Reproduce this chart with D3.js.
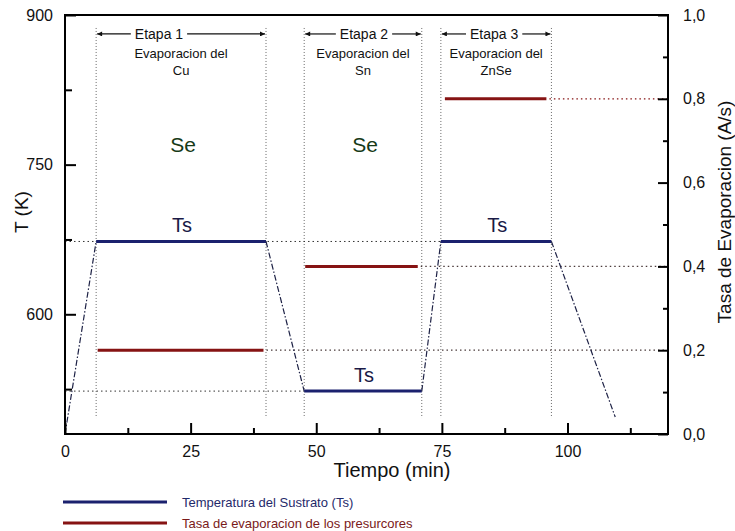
<!DOCTYPE html>
<html>
<head>
<meta charset="utf-8">
<script src="https://cdn.jsdelivr.net/npm/d3@7"></script>
<style>
  body { margin: 0; background: #fff; }
  svg text { font-family: "Liberation Sans", Arial, sans-serif; }
</style>
</head>
<body>
<div id="chart"></div>
<script>
// substrate temperature profile (min, K)
var tsTime = [0, 6.2, 40, 47.6, 71, 74.8, 96.8, 109.5];
var tsTemp = [480, 673, 673, 523, 523, 673, 673, 497];

// evaporation rate of the precursors (A/s)
var rateStart = [6.5, 47.8, 75.6];
var rateEnd = [39.5, 70.2, 95.8];
var rateValue = [0.2, 0.4, 0.8];

// stages
var stageStart = [6.2, 47.6, 74.8];
var stageEnd = [40, 71, 96.8];
var stageNames = ["Etapa 1", "Etapa 2", "Etapa 3"];
var stageMaterial = ["Cu", "Sn", "ZnSe"];

// ticks
var xMajor = [0, 25, 50, 75, 100];
var xMinor = [12.5, 37.5, 62.5, 87.5, 112.5];
var tMajor = [600, 750, 900];
var tMinor = [525, 675, 825];
var rMajor = [0, 0.2, 0.4, 0.6, 0.8, 1.0];
var rMinor = [0.1, 0.3, 0.5, 0.7, 0.9];

var blue = "#1b216e", red = "#861313";

var width = 735, height = 531;
var margin = { top: 15, right: 67, bottom: 97, left: 65 };

var svg = d3.select("#chart").append("svg")
    .attr("width", width)
    .attr("height", height);

var x = d3.scaleLinear().domain([0, 120]).range([margin.left, width - margin.right]);
var yT = d3.scaleLinear().domain([480, 900]).range([height - margin.bottom, margin.top]);
var yR = d3.scaleLinear().domain([0, 1]).range([height - margin.bottom, margin.top]);

// stage boundary verticals
var stageBounds = stageStart.concat(stageEnd);
svg.selectAll("line.stage")
    .data(stageBounds)
    .enter().append("line")
    .attr("x1", function(d) { return x(d); })
    .attr("x2", function(d) { return x(d); })
    .attr("y1", yT(887))
    .attr("y2", yT(496))
    .style("stroke", "#6a6a6a")
    .style("stroke-width", 1)
    .style("stroke-dasharray", "1,2");

// temperature reference dotted lines
svg.append("line")
    .attr("x1", x(0)).attr("x2", x(tsTime[5]))
    .attr("y1", yT(tsTemp[1])).attr("y2", yT(tsTemp[1]))
    .style("stroke", "#333").style("stroke-width", 1).style("stroke-dasharray", "1.5,3");
svg.append("line")
    .attr("x1", x(0)).attr("x2", x(tsTime[3]))
    .attr("y1", yT(tsTemp[3])).attr("y2", yT(tsTemp[3]))
    .style("stroke", "#333").style("stroke-width", 1).style("stroke-dasharray", "1.5,3");

// rate reference dotted lines
svg.selectAll("line.rateRef")
    .data(rateValue)
    .enter().append("line")
    .attr("x1", function(d, i) { return x(rateEnd[i]) + 3; })
    .attr("x2", x(120))
    .attr("y1", function(d) { return yR(d); })
    .attr("y2", function(d) { return yR(d); })
    .style("stroke", function(d, i) { return i == 2 ? red : "#4a3a3a"; })
    .style("stroke-width", 1.2)
    .style("stroke-dasharray", "1.5,3");

// Ts transitions (dash-dot) and plateaus (solid)
for (var i = 0; i < tsTime.length - 1; i++) {
    var plateau = (i % 2 == 1);
    svg.append("line")
        .attr("x1", x(tsTime[i])).attr("y1", yT(tsTemp[i]))
        .attr("x2", x(tsTime[i + 1])).attr("y2", yT(tsTemp[i + 1]))
        .style("stroke", plateau ? blue : "#1e2246")
        .style("stroke-width", plateau ? 3 : 1.2)
        .style("stroke-dasharray", plateau ? null : "6,2,1.5,2");
}

// rate segments
svg.selectAll("line.rate")
    .data(rateValue)
    .enter().append("line")
    .attr("x1", function(d, i) { return x(rateStart[i]); })
    .attr("x2", function(d, i) { return x(rateEnd[i]); })
    .attr("y1", function(d) { return yR(d); })
    .attr("y2", function(d) { return yR(d); })
    .style("stroke", red)
    .style("stroke-width", 3);

// frame
svg.append("rect")
    .attr("x", x(0)).attr("y", yT(900))
    .attr("width", x(120) - x(0)).attr("height", yT(480) - yT(900))
    .style("fill", "none").style("stroke", "#000").style("stroke-width", 2);

// axes
function styleAxis(g) {
    g.select(".domain").remove();
    g.selectAll(".tick line").style("stroke", "#000").style("stroke-width", 2);
    g.selectAll("text").style("font-size", "16px").style("fill", "#111")
        .style("font-family", "'Liberation Sans', Arial, sans-serif");
}

svg.append("g").attr("transform", "translate(0," + yT(480) + ")")
    .call(d3.axisBottom(x).tickValues(xMajor).tickSizeInner(-11).tickSizeOuter(0).tickPadding(12))
    .call(styleAxis);
svg.append("g").attr("transform", "translate(0," + yT(480) + ")")
    .call(d3.axisBottom(x).tickValues(xMinor).tickSizeInner(-6).tickSizeOuter(0).tickFormat(""))
    .call(styleAxis);

svg.append("g").attr("transform", "translate(" + x(0) + ",0)")
    .call(d3.axisLeft(yT).tickValues(tMajor).tickSizeInner(-11).tickSizeOuter(0).tickPadding(12))
    .call(styleAxis);
svg.append("g").attr("transform", "translate(" + x(0) + ",0)")
    .call(d3.axisLeft(yT).tickValues(tMinor).tickSizeInner(-7).tickSizeOuter(0).tickFormat(""))
    .call(styleAxis);

svg.append("g").attr("transform", "translate(" + x(120) + ",0)")
    .call(d3.axisRight(yR).tickValues(rMajor).tickSizeInner(-10).tickSizeOuter(0).tickPadding(15)
        .tickFormat(function(d) { return d3.format(".1f")(d).replace(".", ","); }))
    .call(styleAxis);
svg.append("g").attr("transform", "translate(" + x(120) + ",0)")
    .call(d3.axisRight(yR).tickValues(rMinor).tickSizeInner(-5).tickSizeOuter(0).tickFormat(""))
    .call(styleAxis);

// axis titles
svg.append("text")
    .attr("transform", "translate(28," + 212 + ") rotate(-90)")
    .style("text-anchor", "middle").style("font-size", "19px").style("fill", "#111")
    .text("T (K)");
svg.append("text")
    .attr("transform", "translate(731," + 212 + ") rotate(-90)")
    .style("text-anchor", "middle").style("font-size", "19px").style("fill", "#111")
    .text("Tasa de Evaporacion (A/s)");
svg.append("text")
    .attr("x", 392).attr("y", 477)
    .style("text-anchor", "middle").style("font-size", "20px").style("fill", "#111")
    .text("Tiempo (min)");

// arrow marker
svg.append("defs").append("marker")
    .attr("id", "arrow")
    .attr("viewBox", "0 0 10 10")
    .attr("refX", 10).attr("refY", 5)
    .attr("markerWidth", 9).attr("markerHeight", 5)
    .attr("markerUnits", "userSpaceOnUse")
    .attr("orient", "auto")
    .append("path").attr("d", "M0,0 L10,5 L0,10 Z").style("fill", "#111");

// stage headers
var labelT = [18.7, 59.5, 85.4];
var headY = yT(881);
stageNames.forEach(function(name, i) {
    var t = svg.append("text")
        .attr("x", x(labelT[i])).attr("y", headY).attr("dy", "0.35em")
        .style("text-anchor", "middle").style("font-size", "14px").style("fill", "#111")
        .text(name);
    var w = t.node().getComputedTextLength();
    svg.append("line")
        .attr("x1", x(labelT[i]) - w / 2 - 4).attr("x2", x(stageStart[i]) + 1)
        .attr("y1", headY).attr("y2", headY)
        .style("stroke", "#111").style("stroke-width", 1.2)
        .attr("marker-end", "url(#arrow)");
    svg.append("line")
        .attr("x1", x(labelT[i]) + w / 2 + 4).attr("x2", x(stageEnd[i]) - 1)
        .attr("y1", headY).attr("y2", headY)
        .style("stroke", "#111").style("stroke-width", 1.2)
        .attr("marker-end", "url(#arrow)");

    var mid = (stageStart[i] + stageEnd[i]) / 2;
    svg.append("text")
        .attr("x", x(mid)).attr("y", headY + 19).attr("dy", "0.35em")
        .style("text-anchor", "middle").style("font-size", "13px").style("fill", "#111")
        .text("Evaporacion del");
    svg.append("text")
        .attr("x", x(mid)).attr("y", headY + 36).attr("dy", "0.35em")
        .style("text-anchor", "middle").style("font-size", "13px").style("fill", "#111")
        .text(stageMaterial[i]);
});

// Se labels (stages 1 and 2)
[0, 1].forEach(function(i) {
    svg.append("text")
        .attr("x", x((stageStart[i] + stageEnd[i]) / 2) + 2).attr("y", yT(770)).attr("dy", "0.35em")
        .style("text-anchor", "middle").style("font-size", "21px").style("fill", "#173a17")
        .text("Se");
});

// Ts labels above the plateaus
[1, 3, 5].forEach(function(k) {
    var mid = (tsTime[k] + tsTime[k + 1]) / 2;
    svg.append("text")
        .attr("x", x(mid) + 1).attr("y", yT(tsTemp[k]) - 16).attr("dy", "0.35em")
        .style("text-anchor", "middle").style("font-size", "20px").style("fill", "#1a1a46")
        .text("Ts");
});

// legend
var legendItems = ["Temperatura del Sustrato (Ts)", "Tasa de evaporacion de los presurcores"];
var legendColors = [blue, red];
var legendText = ["#1f2a6a", "#7a1a1a"];
legendItems.forEach(function(label, i) {
    var ly = 502 + i * 21;
    svg.append("line")
        .attr("x1", 63).attr("x2", 167).attr("y1", ly).attr("y2", ly)
        .style("stroke", legendColors[i]).style("stroke-width", 3);
    svg.append("text")
        .attr("x", 182).attr("y", ly).attr("dy", "0.35em")
        .style("font-size", "13px").style("fill", legendText[i])
        .text(label);
});
</script>
</body>
</html>
